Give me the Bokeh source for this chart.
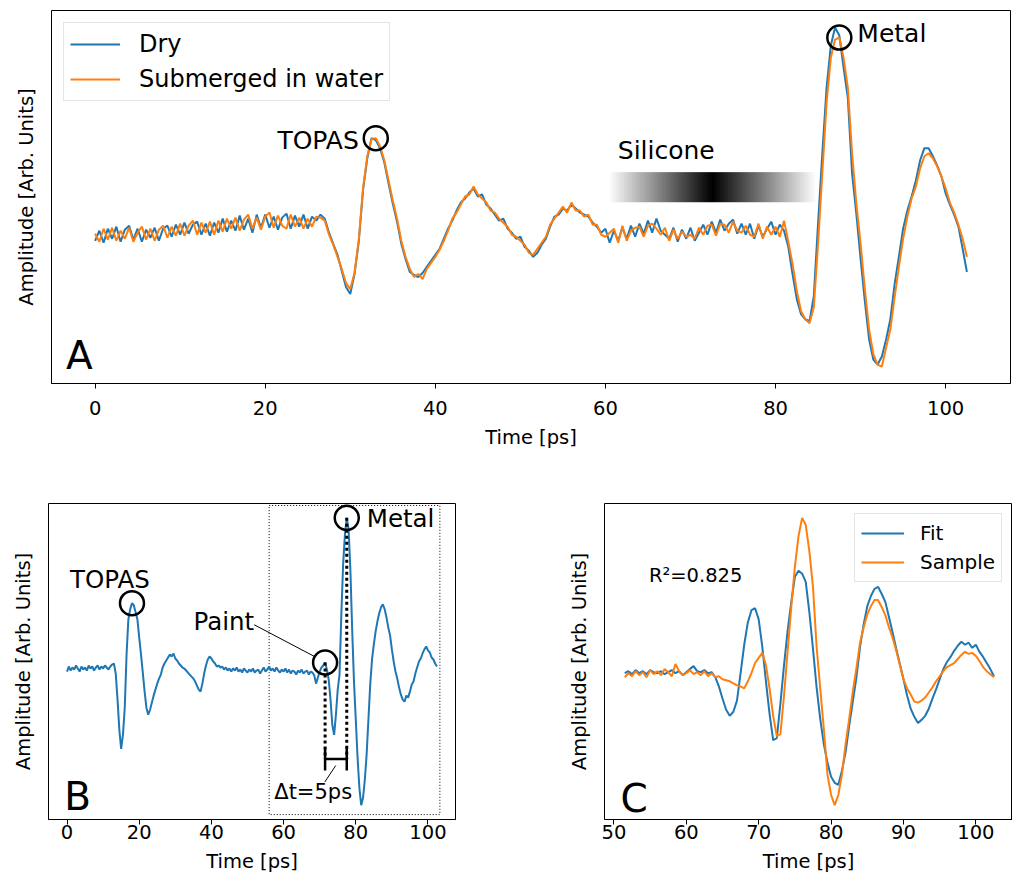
import numpy as np
from bokeh.plotting import figure
from bokeh.layouts import column, row
from bokeh.models import Range1d, Label, Legend, LegendItem, FixedTicker
from bokeh.embed import file_html
from bokeh.resources import INLINE

FONT = "DejaVu Sans"
BLUE = "#1f77b4"
ORANGE = "#ff7f0e"

# ---------------- data ----------------
time_ab = [i * 0.5 for i in range(206)]          # 0 .. 102.5 ps
time_c = [51.5 + i * 0.5 for i in range(103)]    # 51.5 .. 102.5 ps

dry = [
    -2, 8, -4, 10, 0, 12, -3, 9, 13, -1,
    10, -3, 9, 1, 11, -2, 10, 13, 2, 14,
    4, 16, 5, 14, 17, 4, 15, 3, 16, 6,
    20, 7, 18, 8, 23, 9, 20, 6, 24, 11,
    24, 11, 22, 9, 21, 25, 10, 23, 12, 24,
    10, 22, 18, 24, 20, 6, -5, -16, -32, -48,
    -55, -35, -3, 48, 80, 100, 98, 90, 76, 55,
    35, 17, -5, -20, -33, -36, -38, -34, -28, -22,
    -16, -10, 0, 10, 18, 28, 36, 40, 46, 50,
    42, 44, 34, 30, 24, 18, 20, 10, 6, 0,
    2, -8, -12, -18, -14, -6, 0, 12, 22, 24,
    30, 28, 34, 30, 26, 24, 22, 16, 12, 6,
    10, -4, 8, -2, 11, 0, 13, 2, 15, 5,
    18, 6, 20, 8, 4, 0, 11, -3, 9, 0,
    11, -2, 6, 14, 4, 17, 6, 19, 8, 15,
    19, 5, 15, 4, 15, 0, 13, 2, 10, 17,
    4, 14, 8, -8, -35, -60, -75, -80, -82, -57,
    15, 85, 150, 192, 210, 202, 170, 140, 65, 25,
    -20, -62, -100, -120, -125, -117, -100, -80, -45, -18,
    10, 28, 42, 58, 78, 90, 90, 82, 73, 62,
    45, 34, 24, 12, -10, -33,
]

water = [
    5, -3, 10, -1, 11, -2, 8, 0, 11, -3,
    6, 12, -1, 10, -2, 9, 13, 1, 12, 3,
    15, 3, 13, 18, 4, 16, 6, 17, 4, 18,
    7, 20, 10, 21, 8, 19, 24, 10, 21, 9,
    22, 26, 11, 23, 13, 10, 24, 12, 21, 10,
    20, 12, 22, 21, 18, 4, -6, -18, -30, -44,
    -50, -34, -1, 50, 82, 99, 100, 92, 78, 58,
    38, 20, -2, -18, -30, -38, -35, -40, -30, -24,
    -18, -11, -2, 8, 20, 26, 34, 42, 44, 52,
    44, 40, 36, 28, 26, 20, 16, 12, 4, 2,
    -2, -6, -14, -16, -10, -4, 2, 14, 20, 26,
    32, 26, 36, 28, 28, 22, 24, 14, 14, 4,
    2, 6, 10, -4, 13, -2, 8, 11, 12, 2,
    13, 15, 10, 4, 11, -2, 9, 0, 7, 2,
    4, 0, 11, 4, 13, 14, 3, 15, 14, 6,
    17, 8, 6, 13, 4, 2, 15, 0, 12, 4,
    12, 2, 18, -3, -25, -52, -72, -80, -84, -68,
    -5, 65, 135, 180, 198, 200, 180, 150, 85, 35,
    -5, -50, -90, -115, -125, -127, -108, -90, -58, -28,
    0, 22, 40, 52, 70, 82, 85, 80, 72, 62,
    50, 36, 26, 14, 0, -18,
]

painted = [
    -2, 3, -1, 2, 0, 4, 1, -2, 3, 0,
    2, -1, 4, 1, 3, -1, 2, 4, 0, 3,
    1, 4, 2, 0, 3, 5, 6, -4, -30, -60,
    -79, -65, -38, 15, 50, 60, 66, 64, 57, 50,
    32, 15, -3, -22, -38, -45, -40, -33, -26, -20,
    -14, -9, -5, 2, 6, 9, 12, 15, 13, 16,
    11, 9, 6, 4, 2, 1, -1, -3, -5, -7,
    -9, -12, -16, -20, -22, -14, -4, 4, 10, 13,
    11, 8, 6, 3, 4, 2, 3, 0, 2, -1,
    1, -2, 1, -1, 2, -2, 0, -3, 1, -1,
    -3, 0, -2, 1, -3, -1, 0, -4, -1, 2,
    -2, 0, 3, -1, 1, -2, 2, -1, -3, 0,
    -2, 1, -3, 0, -4, -1, -2, -5, -1, -3,
    0, -4, -2, -1, -5, -2, -3, -6, -14, -8,
    -2, 2, 4, 7, 0, -10, -30, -55, -65, -45,
    -20, -5, 55, 105, 135, 151, 140, 100, 40, -12,
    -50, -88, -118, -135, -128, -110, -85, -50, -15, 10,
    25, 38, 48, 56, 62, 65, 60, 52, 42, 34,
    20, 8, -2, -9, -18, -25, -30, -32, -26, -28,
    -22, -15, -12, -4, 2, 8, 11, 16, 20, 23,
    19, 17, 12, 10, 6, 3,
]

fit = [
    0, 2, -1, 3, 0, 2, -1, 3, 1, 0,
    2, -1, 1, 3, 0, 2, -2, 1, 4, 7,
    2, 1, 3, 0, 1, -4, -13, -25, -36, -42,
    -38, -27, 0, 28, 50, 62, 64, 53, 26, -8,
    -40, -66, -64, -30, 8, 42, 70, 95, 101, 98,
    90, 60, 24, -14, -45, -70, -88, -102, -108, -110,
    -96, -78, -52, -28, -4, 26, 48, 66, 76, 83,
    85, 78, 70, 55, 40, 24, 9, -6, -22, -35,
    -43, -49, -46, -42, -35, -25, -16, -6, 4, 11,
    16, 22, 27, 31, 28, 30, 25, 28, 21, 16,
    10, 4, -3,
]

sample = [
    -4, 0, -3, 2, -2, 1, -4, 3, -1, 2,
    -2, 4, 1, -3, 9, 2, -2, 0, 3, -1,
    1, -2, 2, -3, 0, -4, -3, -6, -7, -8,
    -10, -12, -13, -15, -8, 0, 10, 15, 20, 8,
    -15, -42, -62, -60, -22, 22, 65, 105, 135, 153,
    146, 120, 85, 26, -15, -55, -100, -120, -130, -120,
    -100, -70, -45, -18, 5, 30, 45, 58, 66, 72,
    72, 65, 57, 45, 35, 22, 8, -6, -15, -21,
    -28, -29, -27, -24, -19, -14, -8, -3, 2, 6,
    8, 10, 14, 18, 21, 19, 20, 17, 12, 6,
    2, -1, -4,
]

ticks_ab = [0, 20, 40, 60, 80, 100]
ticks_c = [50, 60, 70, 80, 90, 100]
xlim_c = (48.7, 105.06)


def padded(vals, frac=0.05):
    lo, hi = min(vals), max(vals)
    d = (hi - lo) * frac
    return lo - d, hi + d


def peak(ts, ys, lo, hi):
    best = None
    for t, y in zip(ts, ys):
        if lo <= t <= hi and (best is None or y > best[1]):
            best = (t, y)
    return best


def make_fig(width, height, xr, yr, mbl, mbr, mbt, mbb, ticks, xl_standoff, lab_standoff):
    p = figure(width=width, height=height, x_range=Range1d(*xr), y_range=Range1d(*yr),
               output_backend="svg", toolbar_location=None,
               min_border_left=mbl, min_border_right=mbr,
               min_border_top=mbt, min_border_bottom=mbb)
    p.grid.visible = False
    p.outline_line_color = "black"
    p.outline_line_width = 1
    p.background_fill_color = "white"
    p.border_fill_color = "white"
    xa = p.xaxis[0]
    xa.ticker = FixedTicker(ticks=ticks)
    xa.minor_tick_line_color = None
    xa.minor_tick_out = 0
    xa.major_tick_in = 0
    xa.major_tick_out = 5
    xa.major_tick_line_color = "black"
    xa.axis_line_color = "black"
    xa.major_label_text_font = FONT
    xa.major_label_text_font_size = "19.5px"
    xa.major_label_text_color = "black"
    xa.major_label_standoff = lab_standoff
    xa.axis_label = "Time [ps]"
    xa.axis_label_text_font = FONT
    xa.axis_label_text_font_size = "19.5px"
    xa.axis_label_text_font_style = "normal"
    xa.axis_label_text_color = "black"
    xa.axis_label_standoff = xl_standoff
    ya = p.yaxis[0]
    ya.ticker = FixedTicker(ticks=[])
    ya.major_tick_out = 0
    ya.major_tick_in = 0
    ya.minor_tick_out = 0
    ya.minor_tick_line_color = None
    ya.major_tick_line_color = None
    ya.axis_line_color = None
    ya.major_label_standoff = 0
    ya.axis_label = "Amplitude [Arb. Units]"
    ya.axis_label_text_font = FONT
    ya.axis_label_text_font_size = "19.5px"
    ya.axis_label_text_font_style = "normal"
    ya.axis_label_text_color = "black"
    ya.axis_label_standoff = 14
    return p


def label(p, x, y, text, size, align="left", baseline="middle", dx=0, dy=0):
    p.add_layout(Label(x=x, y=y, text=text, text_font=FONT, text_font_size=size,
                       text_color="black", text_align=align, text_baseline=baseline,
                       x_offset=dx, y_offset=dy))


# ---------------- panel A ----------------
pA = make_fig(1012, 458, padded(time_ab), padded(dry + water), 51, 2, 10, 75, ticks_ab, 8, 12)

# silicone gradient bar (white -> black -> white)
n = 256
prof = np.abs(np.linspace(-1.0, 1.0, n))
gray = np.round(prof * 255).astype(np.uint8)
img = np.zeros((1, n), dtype=np.uint32)
view = img.view(dtype=np.uint8).reshape((1, n, 4))
view[0, :, 0] = gray
view[0, :, 1] = gray
view[0, :, 2] = gray
view[0, :, 3] = 255
pA.image_rgba(image=[img], x=60.4, y=36.3, dw=24.3, dh=29.9)

rd = pA.line(time_ab, dry, line_color=BLUE, line_width=2)
rw = pA.line(time_ab, water, line_color=ORANGE, line_width=2)

topA = peak(time_ab, water, 31, 35)
metA = peak(time_ab, water, 85, 90)
pA.scatter([topA[0], metA[0]], [topA[1], metA[1]], marker="circle", size=24,
           fill_color=None, line_color="black", line_width=2.5)
label(pA, topA[0], topA[1], "TOPAS", "25px", align="right", dx=-17, dy=-2)
label(pA, metA[0], metA[1], "Metal", "25px", align="left", dx=18, dy=4)
label(pA, 61.45, 87.7, "Silicone", "25px", align="left")
label(pA, -3.41, -116, "A", "39px", baseline="alphabetic")

legA = Legend(items=[LegendItem(label="Dry", renderers=[rd]),
                     LegendItem(label="Submerged in water", renderers=[rw])],
              location="top_left", margin=12, padding=6, spacing=5,
              glyph_width=50, glyph_height=30, label_height=30, label_standoff=19,
              label_text_font=FONT, label_text_font_size="24px", label_text_color="black",
              border_line_color="#cccccc", border_line_width=1,
              background_fill_color="white", background_fill_alpha=0.8)
pA.add_layout(legA)

# ---------------- panel B ----------------
pB = make_fig(560, 417, padded(time_ab), padded(painted), 48, 105, 45, 54, ticks_ab, 8, 0)

pB.quad(left=[56.0], right=[103.3], bottom=[-144.4], top=[163.3], fill_color=None,
        line_color="black", line_width=1, line_dash="1 2")
pB.line(time_ab, painted, line_color=BLUE, line_width=2)

topB = peak(time_ab, painted, 15, 21)
paiB = peak(time_ab, painted, 70, 73)
metB = peak(time_ab, painted, 75, 80)
bracket_y = -89

pB.segment(x0=[paiB[0], metB[0]], y0=[paiB[1], metB[1]], x1=[paiB[0], metB[0]],
           y1=[bracket_y, bracket_y], line_color="black", line_width=3, line_dash="3 3")
pB.segment(x0=[paiB[0], paiB[0], metB[0]], y0=[bracket_y, bracket_y - 11.5, bracket_y - 11.5],
           x1=[metB[0], paiB[0], metB[0]], y1=[bracket_y, bracket_y + 11.5, bracket_y + 11.5],
           line_color="black", line_width=2.5)
pB.segment(x0=[74.45, 51.84], y0=[-95.6, 44.6], x1=[71.4, 68.45], y1=[-112, 13.2],
           line_color="black", line_width=1)
pB.scatter([topB[0], paiB[0], metB[0]], [topB[1], paiB[1], metB[1]], marker="circle",
           size=24, fill_color=None, line_color="black", line_width=2.5)
label(pB, topB[0], topB[1], "TOPAS", "24.5px", align="center", dx=-22, dy=24)
label(pB, metB[0], metB[1], "Metal", "24.5px", align="left", dx=20, dy=-1)
label(pB, 51.84, 47.9, "Paint", "24.5px", align="right")
label(pB, 68.2, -121.6, "\u0394t=5ps", "21px", align="center")
label(pB, -0.75, -126.8, "B", "39px", baseline="alphabetic")

# ---------------- panel C ----------------
pC = make_fig(452, 417, xlim_c, padded(fit + sample), 44, 0, 45, 54, ticks_c, 8, 0)
rf = pC.line(time_c, fit, line_color=BLUE, line_width=2)
rs = pC.line(time_c, sample, line_color=ORANGE, line_width=2)
label(pC, 54.83, 96.7, "R\u00b2=0.825", "19.5px", align="left")
label(pC, 50.9, -123.6, "C", "39px", baseline="alphabetic")

legC = Legend(items=[LegendItem(label="Fit", renderers=[rf]),
                     LegendItem(label="Sample", renderers=[rs])],
              location="top_right", margin=10, padding=6, spacing=3,
              glyph_width=43, glyph_height=26, label_height=26, label_standoff=16,
              label_text_font=FONT, label_text_font_size="20px", label_text_color="black",
              border_line_color="#cccccc", border_line_width=1,
              background_fill_color="white", background_fill_alpha=0.8)
pC.add_layout(legC)

layout = column(pA, row(pB, pC))
open("out.html", "w").write(file_html(layout, INLINE))
